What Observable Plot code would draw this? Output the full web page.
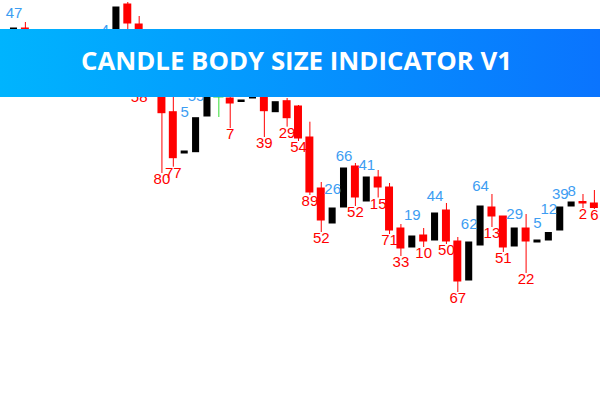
<!DOCTYPE html>
<html><head><meta charset="utf-8">
<script src="https://cdn.jsdelivr.net/npm/d3@7"></script>
<script src="https://cdn.jsdelivr.net/npm/@observablehq/plot@0.6"></script>
<style>
html,body{margin:0;padding:0;background:#fff;}
#wrap{position:relative;width:600px;height:400px;overflow:hidden;}
#banner{position:absolute;left:0;top:29px;width:600px;height:68px;background:linear-gradient(90deg,#00b4fe 0%,#0a74fe 100%);}
#banner svg{display:block;}
</style></head><body>
<div id="wrap"><div id="chart"></div>
<div id="banner"><svg width="600" height="68"><text x="296.5" y="41" text-anchor="middle" textLength="431" lengthAdjust="spacingAndGlyphs" fill="#fff" font-family="'Open Sans', Poppins, sans-serif" font-weight="700" font-size="25">CANDLE BODY SIZE INDICATOR V1</text></svg></div>
</div>
<script>
// OHLC per bar (price units), oldest first
const open  = [343,372,352,328,340,350,332,345,352,371,396,376,325,336,288.3,247,248.3,284,303,302,298.5,302,313.3,288.3,299.3,294,263,212,177,193,234,199,223,213,172,153,165,160,190,159,120,155,193,184,154,172,158,160,170,194,198.5,197];
const high  = [383,378,356,348,356,353,350,348,366,402,398,384,355,342,310,284,299.3,316,315,312,304,314,316,314,302,295,278.3,218,207,240,237,231,230,217,176,181,172,200,197,163,172,210,206,184,182,186,173,187,202,205,206,210];
const low   = [338,340,324,322,336,328,329,332,348,367,370.5,309,320,227,233.3,246,247,282,283,272,297,301,263,287,273.3,259,205,168,176,192,194,198,202.5,166,144,152,153,159,156,108,119,154,173,148,153,127,157,159,169,193,192,191];
const close = [372,350,330,342,352,334,345,338,354.5,393,377,340,350,287.3,242.3,249,282.3,315,303,297,300,310,289.3,298.3,282.3,262,208,180,192,232,203,223,213,170,152,164,159,187,159,119,158,194,184,153,172,159,160,167.5,193,198,197,192.5];
// body size labels printed by the indicator (null = not visible in the picture)
const bodySize = [47,null,null,null,null,null,null,null,4,null,null,58,null,80,77,5,55,null,null,7,null,null,39,null,29,54,89,52,26,66,52,41,15,71,33,19,10,44,50,67,62,64,13,51,29,22,5,12,39,8,2,6];

const bars = open.map((o, i) => ({
  i, open: o, high: high[i], low: low[i], close: close[i], size: bodySize[i],
  kind: close[i] > o ? "bull" : close[i] < o ? "bear" : "doji"
}));
const bull = bars.filter(d => d.kind === "bull");
const bear = bars.filter(d => d.kind === "bear");
const doji = bars.filter(d => d.kind === "doji");
const shown = d => d.size != null;

const RED = "#ff0000", BLUE = "#3d9df2", GREEN = "#33dd33";
const font = "'Liberation Sans', Arial, sans-serif";

const chart = Plot.plot({
  width: 600, height: 400, margin: 0,
  x: {domain: [-1.186, 51.538], axis: null},
  y: {domain: [0, 400], axis: null},
  style: {fontFamily: font, background: "#fff"},
  marks: [
    Plot.ruleX(bear, {x: "i", y1: "low", y2: "high", stroke: RED, strokeWidth: 1}),
    Plot.ruleX(doji, {x: "i", y1: "low", y2: "high", stroke: GREEN, strokeWidth: 1}),
    Plot.rect(bull, {x1: d => d.i - 0.31, x2: d => d.i + 0.31, y1: "open", y2: "close", fill: "#000", insetTop: -0.5, insetBottom: -0.5}),
    Plot.rect(bear, {x1: d => d.i - 0.35, x2: d => d.i + 0.35, y1: "open", y2: "close", fill: RED, insetTop: -0.5, insetBottom: -0.5}),
    Plot.rect(doji, {x1: d => d.i - 0.45, x2: d => d.i + 0.45, y1: "open", y2: "close", fill: GREEN, insetTop: -0.5, insetBottom: -0.5}),
    Plot.text(bull.concat(doji).filter(shown), {x: "i", y: "high", text: "size", lineAnchor: "bottom", fill: BLUE, fontSize: 15}),
    Plot.text(bear.filter(shown), {x: "i", y: "low", text: "size", lineAnchor: "top", fill: RED, fontSize: 15})
  ]
});
document.getElementById("chart").appendChild(chart);
</script>
</body></html>
